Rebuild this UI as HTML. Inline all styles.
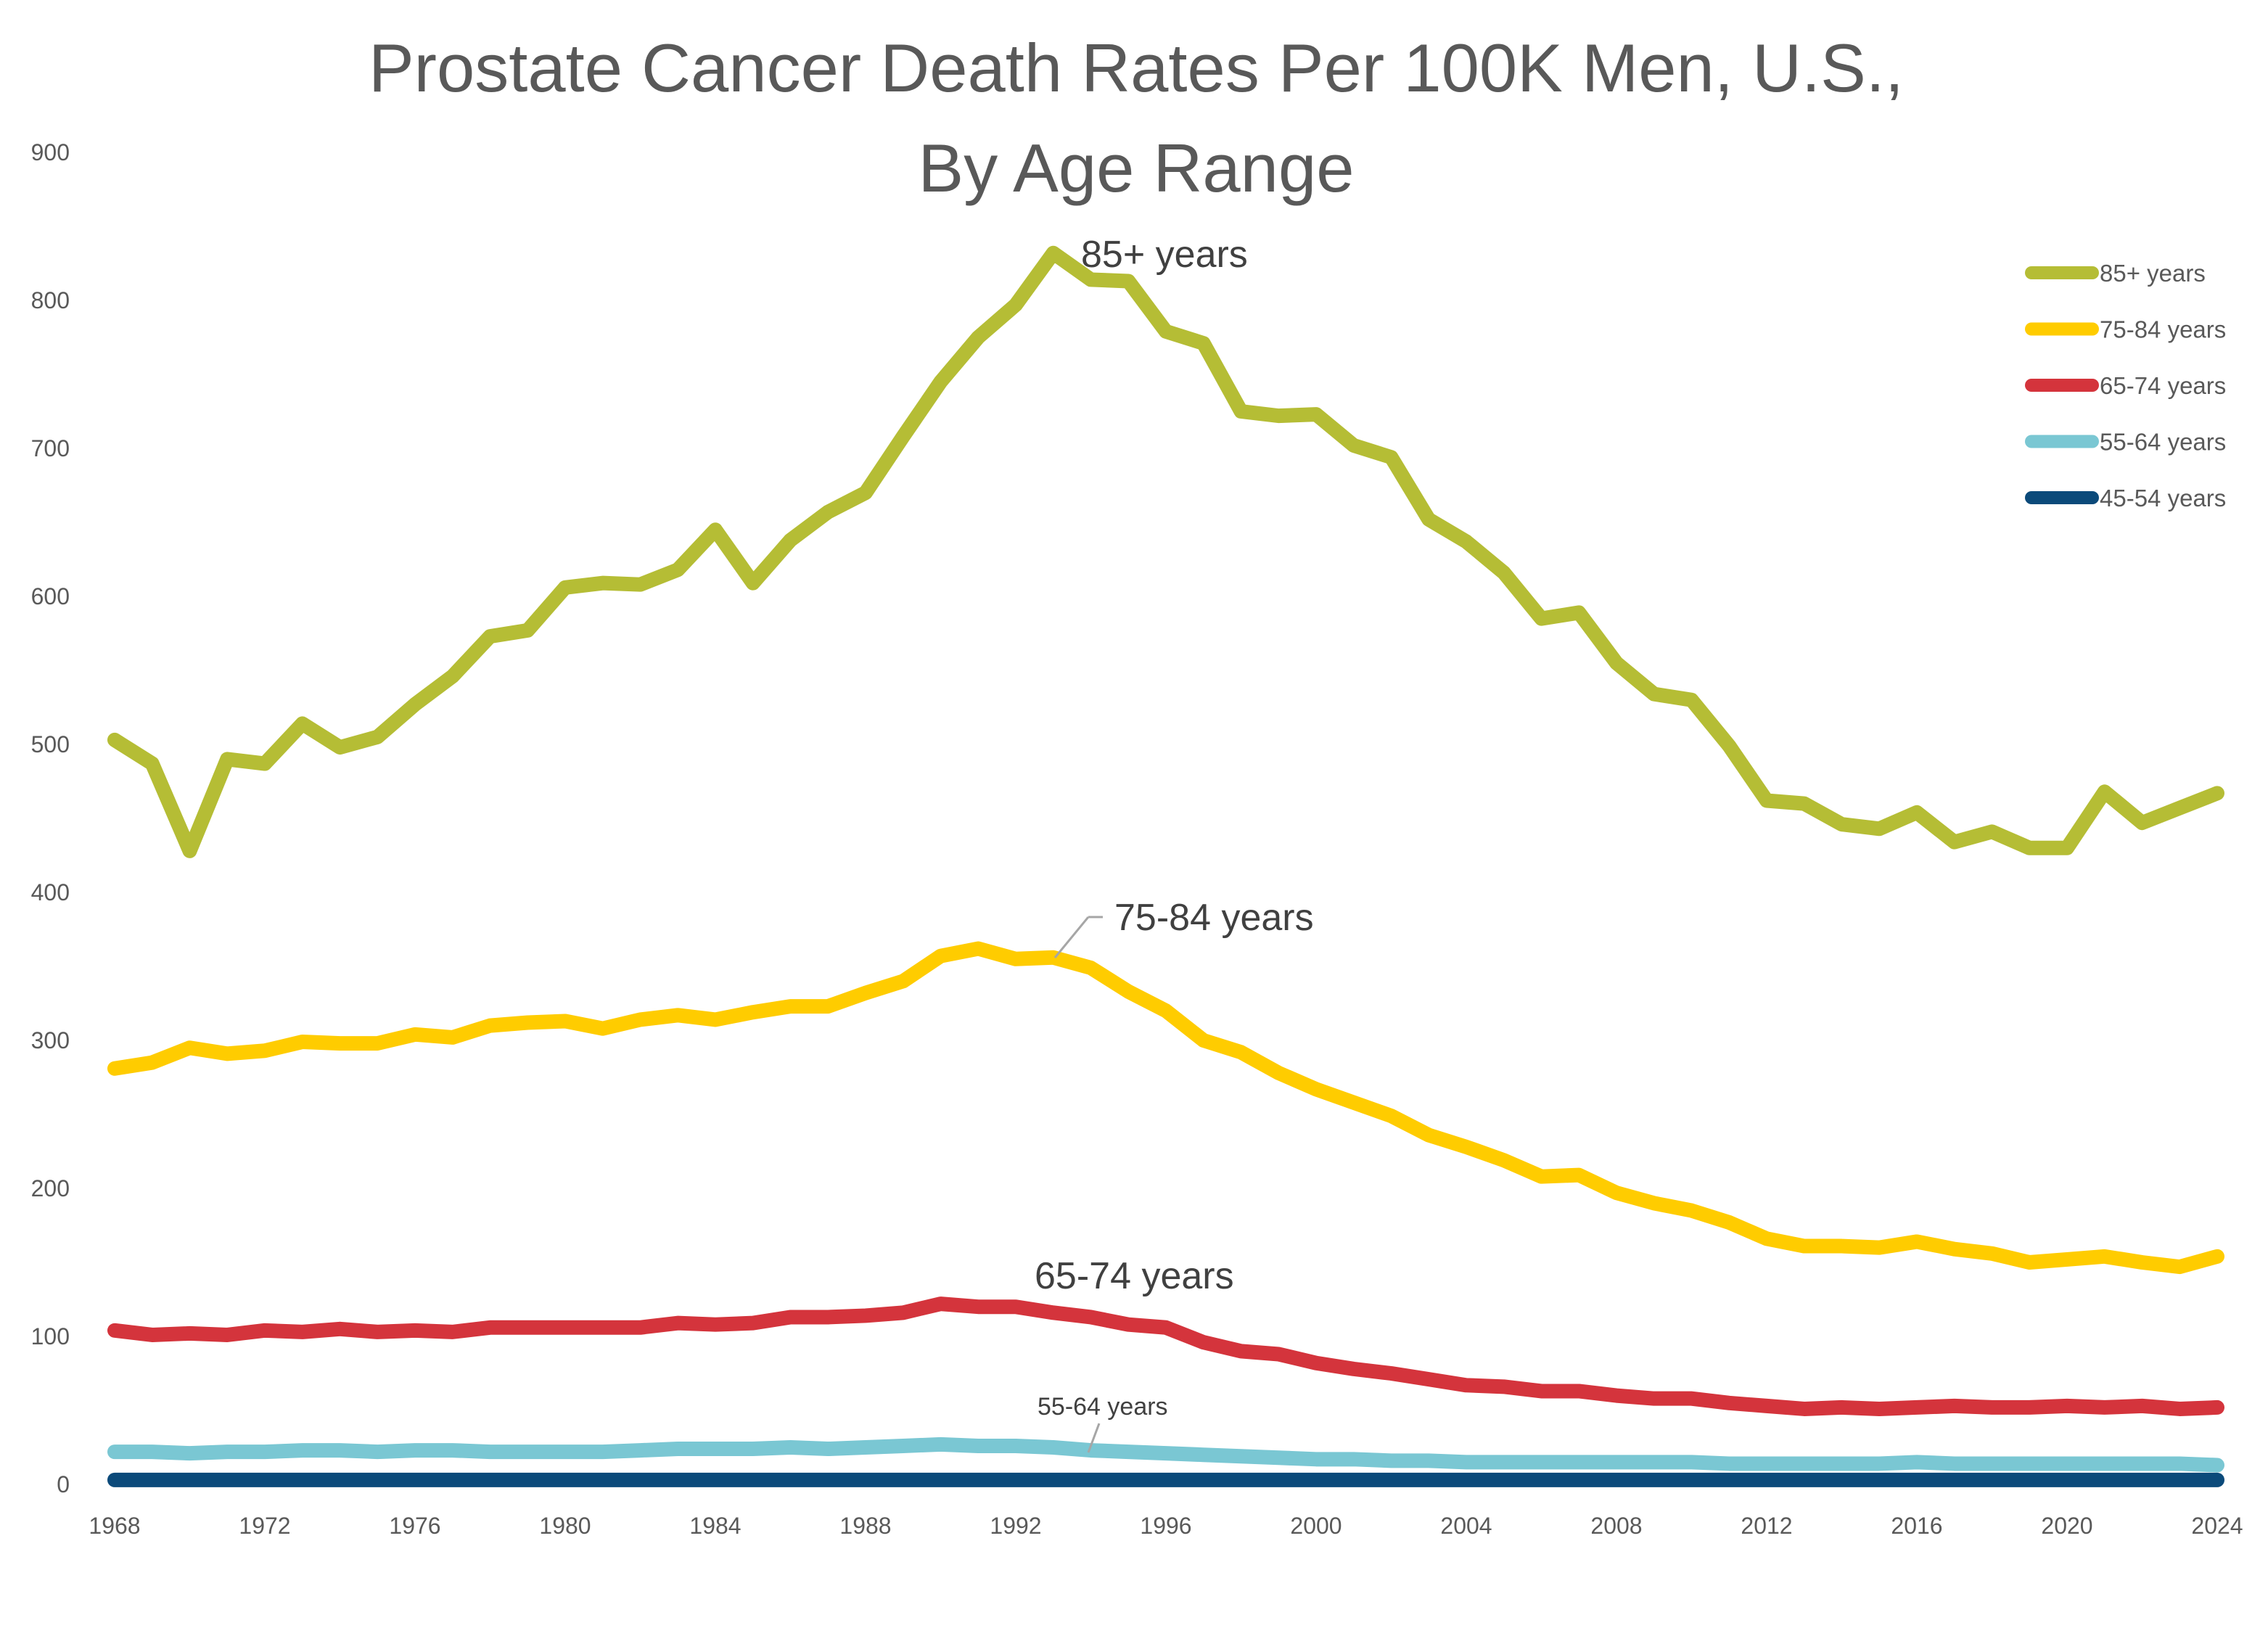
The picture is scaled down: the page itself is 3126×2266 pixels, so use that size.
<!DOCTYPE html>
<html><head><meta charset="utf-8"><style>
html,body{margin:0;padding:0;background:#fff;}
svg{display:block;font-family:"Liberation Sans",sans-serif;}
</style></head><body>
<svg id="chart" width="3126" height="2266" viewBox="0 0 3126 2266" xmlns="http://www.w3.org/2000/svg">
<rect width="3126" height="2266" fill="#fff"/>
<text x="1566" y="126" font-size="94" fill="#595959" text-anchor="middle">Prostate Cancer Death Rates Per 100K Men, U.S.,</text>
<text x="1566" y="264" font-size="94" fill="#595959" text-anchor="middle">By Age Range</text>
<g id="yticks"></g>
<g id="xticks"></g>
<g id="series"></g>
<g id="legend"></g>
<text x="1490" y="368" font-size="52" fill="#404040">85+ years</text>
<line x1="1500" y1="1264" x2="1454" y2="1320" stroke="#a6a6a6" stroke-width="3"/>
<line x1="1500" y1="1264" x2="1520" y2="1264" stroke="#a6a6a6" stroke-width="3"/>
<text x="1536" y="1282" font-size="52" fill="#404040">75-84 years</text>
<text x="1426" y="1776" font-size="52" fill="#404040">65-74 years</text>
<text x="1430" y="1950" font-size="34" fill="#404040">55-64 years</text>
<line x1="1515" y1="1962" x2="1500" y2="2002" stroke="#a6a6a6" stroke-width="3"/>
</svg>
<script>
const years = []; for (let y = 1968; y <= 2024; y++) years.push(y);
const yTicks = [0,100,200,300,400,500,600,700,800,900];
const xTickLabels = [1968,1972,1976,1980,1984,1988,1992,1996,2000,2004,2008,2012,2016,2020,2024];
const seriesNames = ["85+ years","75-84 years","65-74 years","55-64 years","45-54 years"];
const seriesColors = ["#b5bd35","#ffcc00","#d4343c","#7ac7d3","#0b4a7a"];
const s85 = [503,487,428,490,487,514,498,505,527,546,573,577,606,609,608,618,645,609,638,657,670,708,745,775,797,832,814,813,779,771,725,722,723,702,694,652,637,616,585,589,555,534,530,499,462,460,446,443,454,434,441,430,430,468,447,457,467];
const s75 = [281,285,295,291,293,299,298,298,304,302,310,312,313,308,314,317,314,319,323,323,332,340,357,362,355,356,349,333,320,300,292,278,267,258,249,236,228,219,208,209,197,190,185,177,166,161,161,160,164,159,156,150,152,154,150,147,154];
const s65 = [104,101,102,101,104,103,105,103,104,103,106,106,106,106,106,109,108,109,113,113,114,116,122,120,120,116,113,108,106,96,90,88,82,78,75,71,67,66,63,63,60,58,58,55,53,51,52,51,52,53,52,52,53,52,53,51,52];
const s55 = [22,22,21,22,22,23,23,22,23,23,22,22,22,22,23,24,24,24,25,24,25,26,27,26,26,25,23,22,21,20,19,18,17,17,16,16,15,15,15,15,15,15,15,14,14,14,14,14,15,14,14,14,14,14,14,14,13];
const s45 = [3,3,3,3,3,3,3,3,3,3,3,3,3,3,3,3,3,3,3,3,3,3,3,3,3,3,3,3,3,3,3,3,3,3,3,3,3,3,3,3,3,3,3,3,3,3,3,3,3,3,3,3,3,3,3,3,3];
const allSeries = [s85,s75,s65,s55,s45];

const NS = "http://www.w3.org/2000/svg";
const X0 = 158, X1 = 3056, Y0 = 2046, Y900 = 210;
function xs(yr){ return X0 + (yr-1968)*(X1-X0)/56; }
function ys(v){ return Y0 - v*(Y0-Y900)/900; }

const yg = document.getElementById('yticks');
yTicks.forEach(t=>{
  const el = document.createElementNS(NS,'text');
  
  
  el.setAttribute('x',96); el.setAttribute('y',ys(t)+11);
  el.setAttribute('text-anchor','end'); el.setAttribute('font-size','32'); el.setAttribute('fill','#595959');
  el.textContent = t; yg.appendChild(el);
});
const xg = document.getElementById('xticks');
xTickLabels.forEach(t=>{
  const el = document.createElementNS(NS,'text');
  
  
  el.setAttribute('x',xs(t)); el.setAttribute('y',2114);
  el.setAttribute('text-anchor','middle'); el.setAttribute('font-size','32'); el.setAttribute('fill','#595959');
  el.textContent = t; xg.appendChild(el);
});
const sg = document.getElementById('series');
for (let i = allSeries.length-1; i >= 0; i--) {
  const p = document.createElementNS(NS,'polyline');
  
  
  p.setAttribute('points', allSeries[i].map((v,k)=>xs(years[k])+','+ys(v)).join(' '));
  p.setAttribute('fill','none'); p.setAttribute('stroke',seriesColors[i]);
  p.setAttribute('stroke-width','20'); p.setAttribute('stroke-linejoin','round'); p.setAttribute('stroke-linecap','round');
  sg.appendChild(p);
}
const lg = document.getElementById('legend');
seriesNames.forEach((n,i)=>{
  const y = 376 + i*77.5;
  const l = document.createElementNS(NS,'line');
  
  
  l.setAttribute('x1',2800); l.setAttribute('x2',2884); l.setAttribute('y1',y); l.setAttribute('y2',y);
  l.setAttribute('stroke',seriesColors[i]); l.setAttribute('stroke-width','18'); l.setAttribute('stroke-linecap','round');
  lg.appendChild(l);
  const t = document.createElementNS(NS,'text');
  
  
  t.setAttribute('x',2894); t.setAttribute('y',y+12);
  t.setAttribute('font-size','33'); t.setAttribute('fill','#595959');
  t.textContent = n; lg.appendChild(t);
});
</script>
</body></html>
